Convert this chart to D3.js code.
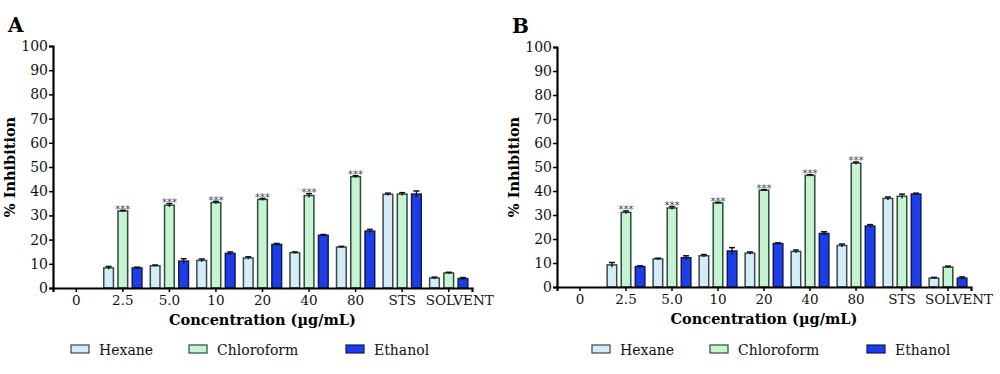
<!DOCTYPE html>
<html>
<head>
<meta charset="utf-8">
<script src="https://cdn.jsdelivr.net/npm/d3@7"></script>
<style>
  body { margin: 0; background: #fff; }
  svg { font-family: "DejaVu Serif", "Liberation Serif", serif; }
</style>
</head>
<body>
<div id="chart"></div>
<script>
// categories and series
var categories = ["0", "2.5", "5.0", "10", "20", "40", "80", "STS", "SOLVENT"];
var seriesNames = ["Hexane", "Chloroform", "Ethanol"];
var yTicks = [0, 10, 20, 30, 40, 50, 60, 70, 80, 90, 100];

// panel A values (% inhibition) and SEM
var hexaneA     = [null, 8.3, 9.2, 11.4, 12.4, 14.6, 16.9, 38.7, 4.1];
var chloroformA = [null, 31.8, 34.2, 35.3, 36.6, 38.2, 46.0, 38.8, 6.2];
var ethanolA    = [null, 8.3, 11.1, 14.3, 18.0, 21.8, 23.5, 38.8, 3.9];
var hexaneAErr     = [0, 0.6, 0.3, 0.6, 0.5, 0.3, 0.3, 0.5, 0.4];
var chloroformAErr = [0, 0.3, 0.7, 0.5, 0.4, 0.8, 0.4, 0.6, 0.3];
var ethanolAErr    = [0, 0.3, 1.0, 0.6, 0.4, 0.3, 0.7, 1.3, 0.4];

// panel B values (% inhibition) and SEM
var hexaneB     = [null, 9.2, 11.7, 13.0, 14.1, 14.8, 17.3, 36.9, 3.7];
var chloroformB = [null, 31.1, 32.9, 35.0, 40.3, 46.5, 51.6, 37.8, 8.3];
var ethanolB    = [null, 8.5, 12.2, 15.0, 18.1, 22.3, 25.4, 38.7, 3.7];
var hexaneBErr     = [0, 1.0, 0.3, 0.5, 0.5, 0.6, 0.6, 0.6, 0.3];
var chloroformBErr = [0, 0.6, 0.6, 0.3, 0.3, 0.3, 0.5, 0.9, 0.4];
var ethanolBErr    = [0, 0.3, 0.8, 1.4, 0.3, 0.7, 0.6, 0.4, 0.5];

// significance marks over chloroform bars
var signifA = ["", "***", "***", "***", "***", "***", "***", "", ""];
var signifB = ["", "***", "***", "***", "***", "***", "***", "", ""];

var fills   = ["#d3ecf8", "#c6f4d3", "#1d3ee6"];
var strokes = ["#3b4a4a", "#2f4a3c", "#101a5a"];

var svg = d3.select("#chart").append("svg")
    .attr("width", 1000)
    .attr("height", 374);

/**
 * Draw one bar panel at (left, top)
 */
function drawPanel(opts) {
    var g = svg.append("g")
        .attr("transform", "translate(" + opts.left + "," + opts.top + ")");

    var x = d3.scaleBand()
        .domain(categories)
        .range([0, opts.width])
        .paddingInner(0.18)
        .paddingOuter(0.09);

    var xInner = d3.scaleBand()
        .domain(seriesNames)
        .range([0, x.bandwidth()])
        .paddingInner(0.32);

    var y = d3.scaleLinear()
        .domain([0, 100])
        .range([opts.height, 0]);

    // panel letter
    svg.append("text")
        .attr("x", opts.left - 45)
        .attr("y", opts.top - 14)
        .attr("font-size", 20)
        .attr("font-weight", "bold")
        .text(opts.letter);

    var rows = [];
    opts.values.forEach(function(vals, s) {
        vals.forEach(function(v, i) {
            if (v === null) return;
            rows.push({cat: categories[i], s: s, value: v, err: opts.errors[s][i], mark: s === 1 ? opts.signif[i] : ""});
        });
    });

    // bars
    g.selectAll("rect.bar")
        .data(rows)
        .enter()
        .append("rect")
        .attr("class", "bar")
        .attr("x", function(d) { return x(d.cat) + xInner(seriesNames[d.s]); })
        .attr("width", xInner.bandwidth())
        .attr("y", function(d) { return y(d.value); })
        .attr("height", function(d) { return y(0) - y(d.value); })
        .attr("fill", function(d) { return fills[d.s]; })
        .attr("stroke", function(d) { return strokes[d.s]; })
        .attr("stroke-width", 1.5);

    // error bars
    var cx = function(d) { return x(d.cat) + xInner(seriesNames[d.s]) + xInner.bandwidth() / 2; };
    g.selectAll("line.err")
        .data(rows)
        .enter()
        .append("line")
        .attr("class", "err")
        .attr("x1", cx).attr("x2", cx)
        .attr("y1", function(d) { return y(d.value - d.err); })
        .attr("y2", function(d) { return y(d.value + d.err); })
        .attr("stroke", "#111")
        .attr("stroke-width", 1.3);
    g.selectAll("line.cap")
        .data(rows)
        .enter()
        .append("line")
        .attr("class", "cap")
        .attr("x1", function(d) { return cx(d) - 3; })
        .attr("x2", function(d) { return cx(d) + 3; })
        .attr("y1", function(d) { return y(d.value + d.err); })
        .attr("y2", function(d) { return y(d.value + d.err); })
        .attr("stroke", "#111")
        .attr("stroke-width", 1.5);

    // *** marks
    g.selectAll("text.sig")
        .data(rows.filter(function(d) { return d.mark; }))
        .enter()
        .append("text")
        .attr("class", "sig")
        .attr("x", cx)
        .attr("y", function(d) { return y(d.value + d.err) + 2.5; })
        .attr("text-anchor", "middle")
        .attr("font-family", "DejaVu Sans, sans-serif")
        .attr("font-size", 10)
        .attr("fill", "#3a4560")
        .text(function(d) { return d.mark; });

    // y axis
    var yAxis = g.append("g")
        .call(d3.axisLeft(y).tickValues(yTicks).tickSizeOuter(0).tickSize(4).tickPadding(1));
    yAxis.select(".domain").attr("stroke", "#000").attr("stroke-width", 2.2);
    yAxis.selectAll(".tick line").attr("stroke", "#000").attr("stroke-width", 1.5);
    yAxis.selectAll(".tick text")
        .attr("font-family", "DejaVu Serif, serif")
        .attr("font-size", 14)
        .attr("fill", "#111");

    // x axis
    var xAxis = g.append("g")
        .attr("transform", "translate(0," + opts.height + ")")
        .call(d3.axisBottom(x).tickSizeOuter(0).tickSize(4).tickPadding(3));
    xAxis.select(".domain").attr("stroke", "#000").attr("stroke-width", 2.2);
    xAxis.selectAll(".tick line").attr("stroke", "#000").attr("stroke-width", 1.5);
    xAxis.selectAll(".tick text")
        .attr("font-family", "DejaVu Serif, serif")
        .attr("font-size", 13.5)
        .attr("fill", "#111")
        .attr("dx", function(d) { return d === "SOLVENT" ? 11 : 0; });

    // axis titles
    g.append("text")
        .attr("x", opts.width / 2)
        .attr("y", opts.height + 37)
        .attr("text-anchor", "middle")
        .attr("font-size", 14.5)
        .attr("font-weight", "bold")
        .text("Concentration (\u00b5g/mL)");

    g.append("text")
        .attr("transform", "translate(" + (-38) + "," + (opts.height / 2) + ") rotate(-90)")
        .attr("text-anchor", "middle")
        .attr("font-size", 14.5)
        .attr("font-weight", "bold")
        .text("% Inhibition");

    // legend
    var legendX = [0, 118, 275];
    var lg = svg.append("g")
        .attr("transform", "translate(" + (opts.left + opts.legendDx) + ",349)");
    seriesNames.forEach(function(name, s) {
        lg.append("rect")
            .attr("x", legendX[s])
            .attr("y", -4)
            .attr("width", 18)
            .attr("height", 8)
            .attr("fill", fills[s])
            .attr("stroke", strokes[s])
            .attr("stroke-width", 1.2);
        lg.append("text")
            .attr("x", legendX[s] + 28)
            .attr("y", 6)
            .attr("font-size", 14)
            .attr("fill", "#111")
            .text(name);
    });
}

drawPanel({
    letter: "A", left: 53, top: 46, width: 419, height: 242, legendDx: 18,
    values: [hexaneA, chloroformA, ethanolA],
    errors: [hexaneAErr, chloroformAErr, ethanolAErr],
    signif: signifA
});

drawPanel({
    letter: "B", left: 557, top: 47, width: 414, height: 240, legendDx: 35,
    values: [hexaneB, chloroformB, ethanolB],
    errors: [hexaneBErr, chloroformBErr, ethanolBErr],
    signif: signifB
});
</script>
</body>
</html>
